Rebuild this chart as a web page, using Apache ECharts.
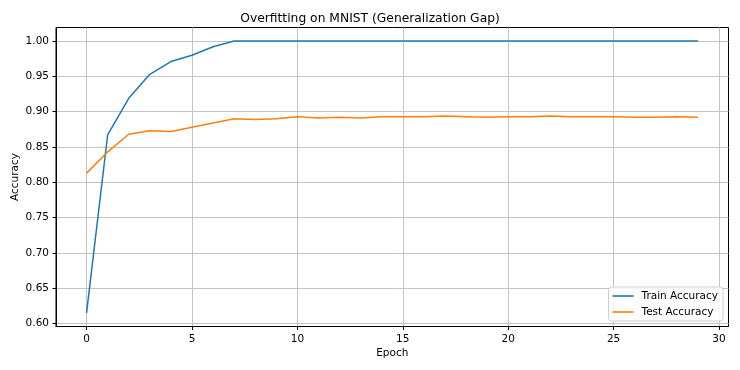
<!DOCTYPE html>
<html>
<head>
<meta charset="utf-8">
<script src="https://cdn.jsdelivr.net/npm/echarts@6/dist/echarts.min.js"></script>
<style>html,body{margin:0;padding:0;background:#fff}#c{width:740px;height:370px}</style>
</head>
<body>
<div id="c"></div>
<script>
const epochs = [0,1,2,3,4,5,6,7,8,9,10,11,12,13,14,15,16,17,18,19,20,21,22,23,24,25,26,27,28,29];
const trainAcc = [0.615,0.867,0.919,0.953,0.971,0.980,0.992,1.0,1.0,1.0,1.0,1.0,1.0,1.0,1.0,1.0,1.0,1.0,1.0,1.0,1.0,1.0,1.0,1.0,1.0,1.0,1.0,1.0,1.0,1.0];
const testAcc = [0.813,0.843,0.868,0.873,0.872,0.878,0.884,0.890,0.889,0.890,0.893,0.891,0.892,0.891,0.893,0.893,0.893,0.894,0.893,0.892,0.893,0.893,0.894,0.893,0.893,0.893,0.892,0.892,0.893,0.892];
const xTicks = [0,5,10,15,20,25,30];
const yTicks = [0.60,0.65,0.70,0.75,0.80,0.85,0.90,0.95,1.00];

const font = 'DejaVu Sans';
const chart = echarts.init(document.getElementById('c'), null, {renderer:'canvas'});
chart.setOption({
  animation: false,
  backgroundColor: '#fff',
  title: {
    text: 'Overfitting on MNIST (Generalization Gap)',
    left: 'center', top: 8,
    textStyle: {fontFamily: font, fontSize: 12.3, fontWeight: 'normal', color: '#000'}
  },
  grid: {
    left: 56, right: 11.5, top: 27.5, bottom: 43.5,
    outerBoundsMode: 'none', containLabel: false,
    show: true, borderColor: '#000', borderWidth: 1, backgroundColor: 'transparent'
  },
  legend: {
    orient: 'vertical', right: 17, bottom: 49,
    data: ['Train Accuracy','Test Accuracy'],
    icon: 'rect', itemWidth: 21, itemHeight: 1.6, itemGap: 4,
    padding: [3, 5, 3, 4],
    backgroundColor: 'rgba(255,255,255,0.85)', borderColor: '#cfcfcf', borderWidth: 1, borderRadius: 3,
    textStyle: {fontFamily: font, fontSize: 10.5, color: '#000', lineHeight: 12, padding: [0,0,0,3]}
  },
  xAxis: {
    type: 'value', min: -1.45, max: 30.45,
    name: 'Epoch', nameLocation: 'middle', nameGap: 21, nameMoveOverlap: false,
    nameTextStyle: {fontFamily: font, fontSize: 10.5, color: '#000', verticalAlign: 'top'},
    axisLine: {show: true, onZero: false, lineStyle: {color: '#000', width: 1}},
    axisTick: {show: true, customValues: xTicks, length: 3.5, lineStyle: {color: '#000'}},
    axisLabel: {customValues: xTicks, fontFamily: font, fontSize: 10.5, color: '#000', margin: 7},
    splitLine: {show: true, lineStyle: {color: '#c4c4c4', width: 1}}
  },
  yAxis: {
    type: 'value', min: 0.59575, max: 1.01925,
    name: 'Accuracy', nameLocation: 'middle', nameGap: 35, nameRotate: 90, nameMoveOverlap: false,
    nameTextStyle: {fontFamily: font, fontSize: 10.5, color: '#000'},
    axisLine: {show: true, onZero: false, lineStyle: {color: '#000', width: 1}},
    axisTick: {show: true, customValues: yTicks, length: 3.5, lineStyle: {color: '#000'}},
    axisLabel: {customValues: yTicks, fontFamily: font, fontSize: 10.5, color: '#000', margin: 7,
      formatter: v => v.toFixed(2)},
    splitLine: {show: true, lineStyle: {color: '#c4c4c4', width: 1}}
  },
  series: [
    {name: 'Train Accuracy', type: 'line', showSymbol: false, symbol: 'none',
     lineStyle: {color: '#1f77b4', width: 1.5}, itemStyle: {color: '#1f77b4'},
     data: epochs.map((e,i) => [e, trainAcc[i]])},
    {name: 'Test Accuracy', type: 'line', showSymbol: false, symbol: 'none',
     lineStyle: {color: '#ff7f0e', width: 1.5}, itemStyle: {color: '#ff7f0e'},
     data: epochs.map((e,i) => [e, testAcc[i]])}
  ]
});
</script>
</body>
</html>
